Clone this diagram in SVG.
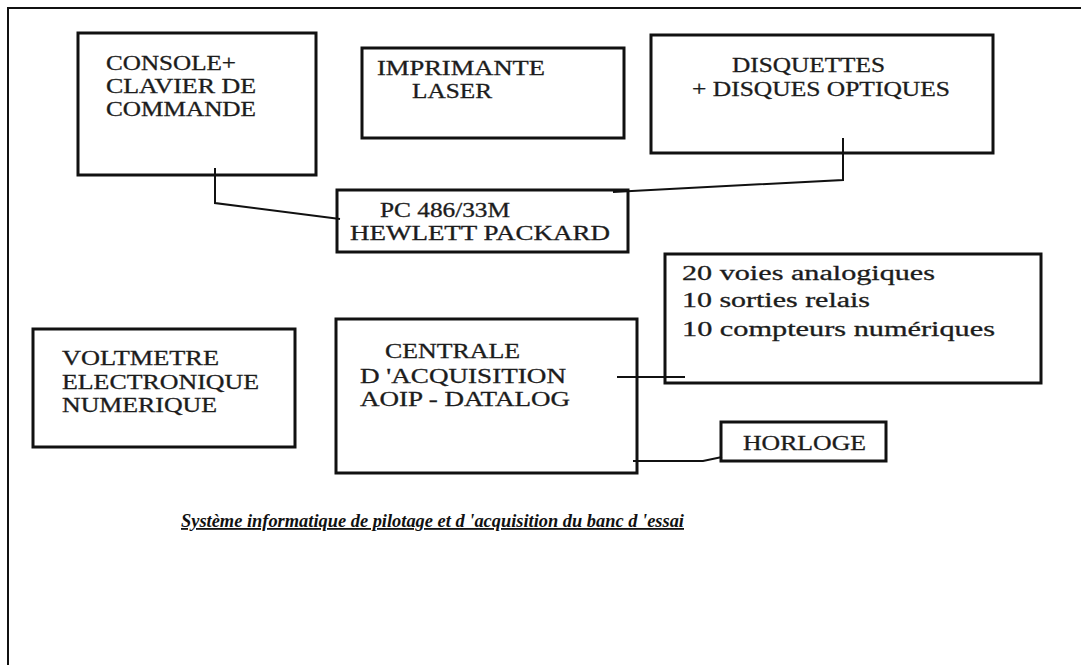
<svg xmlns="http://www.w3.org/2000/svg" width="1081" height="665" viewBox="0 0 1081 665">
<style>
.box{fill:none;stroke:#111;stroke-width:3}
.frame{fill:none;stroke:#111;stroke-width:2}
.conn{fill:none;stroke:#111;stroke-width:2;stroke-linejoin:miter}
.t{font-family:"Liberation Serif","Times New Roman",serif;font-size:20px;fill:#1c1c1c;stroke:#1c1c1c;stroke-width:0.3}
.cap{font-family:"Liberation Serif","Times New Roman",serif;font-size:18px;font-weight:bold;font-style:italic;fill:#111;text-decoration:underline}
</style>
<rect width="1081" height="665" fill="#fff"/>
<path class="frame" d="M8 665 V8 H1081"/>
<g id="connectors">
<path class="conn" d="M215 168 V203 L340 219"/>
<path class="conn" d="M843 138 V180 L613 192"/>
<path class="conn" d="M617 377 H685"/>
<path class="conn" d="M633 461 H703 L722 457"/>
</g>
<g id="console">
<rect class="box" x="78" y="33" width="238" height="142"/>
<text class="t" x="106" y="70" textLength="130" lengthAdjust="spacingAndGlyphs">CONSOLE+</text>
<text class="t" x="106" y="93" textLength="150" lengthAdjust="spacingAndGlyphs">CLAVIER DE</text>
<text class="t" x="106" y="116" textLength="150" lengthAdjust="spacingAndGlyphs">COMMANDE</text>
</g>
<g id="imprimante">
<rect class="box" x="362" y="48" width="262" height="90"/>
<text class="t" x="377" y="75" textLength="168" lengthAdjust="spacingAndGlyphs">IMPRIMANTE</text>
<text class="t" x="412" y="98" textLength="80" lengthAdjust="spacingAndGlyphs">LASER</text>
</g>
<g id="disquettes">
<rect class="box" x="651" y="35" width="342" height="118"/>
<text class="t" x="732" y="72" textLength="153" lengthAdjust="spacingAndGlyphs">DISQUETTES</text>
<text class="t" x="692" y="96" textLength="258" lengthAdjust="spacingAndGlyphs">+ DISQUES OPTIQUES</text>
</g>
<g id="pc">
<rect class="box" x="337" y="190" width="291" height="62"/>
<text class="t" x="380" y="217" textLength="130" lengthAdjust="spacingAndGlyphs">PC 486/33M</text>
<text class="t" x="350" y="240" textLength="260" lengthAdjust="spacingAndGlyphs">HEWLETT PACKARD</text>
</g>
<g id="voies">
<rect class="box" x="665" y="254" width="376" height="129"/>
<text class="t" x="682" y="280" textLength="253" lengthAdjust="spacingAndGlyphs">20 voies analogiques</text>
<text class="t" x="682" y="307" textLength="188" lengthAdjust="spacingAndGlyphs">10 sorties relais</text>
<text class="t" x="682" y="336" textLength="313" lengthAdjust="spacingAndGlyphs">10 compteurs numériques</text>
</g>
<g id="voltmetre">
<rect class="box" x="33" y="329" width="262" height="118"/>
<text class="t" x="62" y="365" textLength="157" lengthAdjust="spacingAndGlyphs">VOLTMETRE</text>
<text class="t" x="62" y="389" textLength="197" lengthAdjust="spacingAndGlyphs">ELECTRONIQUE</text>
<text class="t" x="62" y="412" textLength="155" lengthAdjust="spacingAndGlyphs">NUMERIQUE</text>
</g>
<g id="centrale">
<rect class="box" x="336" y="319" width="301" height="154"/>
<text class="t" x="385" y="358" textLength="135" lengthAdjust="spacingAndGlyphs">CENTRALE</text>
<text class="t" x="360" y="383" textLength="206" lengthAdjust="spacingAndGlyphs">D 'ACQUISITION</text>
<text class="t" x="360" y="406" textLength="210" lengthAdjust="spacingAndGlyphs">AOIP - DATALOG</text>
</g>
<g id="horloge">
<rect class="box" x="721" y="422" width="165" height="39"/>
<text class="t" x="743" y="450" textLength="123" lengthAdjust="spacingAndGlyphs">HORLOGE</text>
</g>
<g id="caption">
<text class="cap" x="181" y="527" textLength="503" lengthAdjust="spacingAndGlyphs">Système informatique de pilotage et d 'acquisition du banc d 'essai</text>
</g>
</svg>
